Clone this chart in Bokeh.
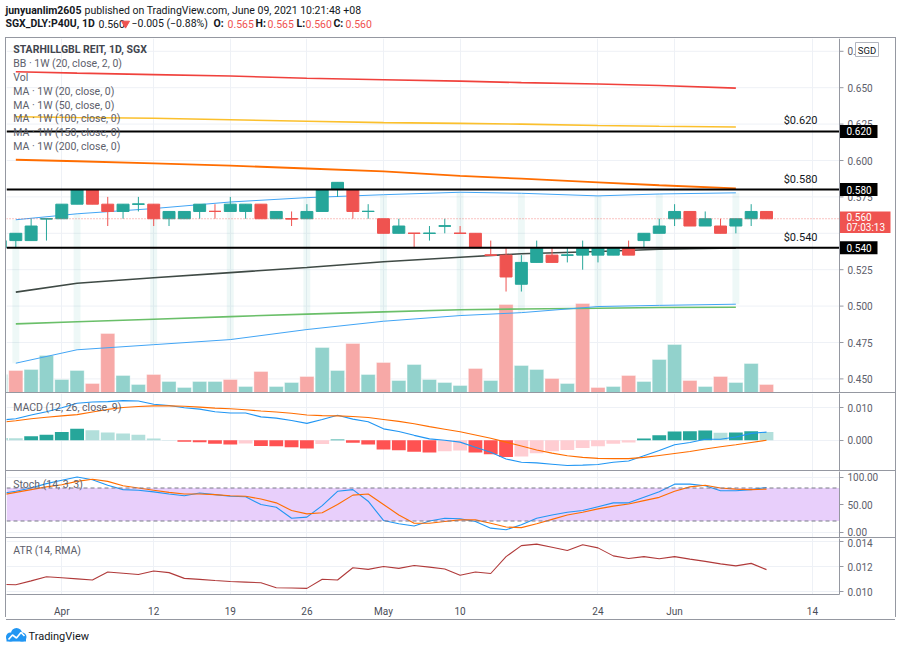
from bokeh.plotting import figure
from bokeh.models import (Range1d, FixedTicker, PrintfTickFormatter, Span,
                          BoxAnnotation, Spacer, ColumnDataSource)
from bokeh.layouts import column, row
from bokeh.core.properties import value
from bokeh.embed import file_html
from bokeh.resources import INLINE

# ---------------- data ----------------
dates = ["Mar 26", "Mar 29", "Mar 30", "Mar 31", "Apr 1", "Apr 5", "Apr 6", "Apr 7", "Apr 8", "Apr 9",
         "Apr 12", "Apr 13", "Apr 14", "Apr 15", "Apr 16", "Apr 19", "Apr 20", "Apr 21", "Apr 22", "Apr 23",
         "Apr 26", "Apr 27", "Apr 28", "Apr 29", "Apr 30", "May 3", "May 4", "May 5", "May 6", "May 7",
         "May 10", "May 11", "May 12", "May 14", "May 17", "May 18", "May 19", "May 20", "May 21", "May 24",
         "May 25", "May 27", "May 28", "May 31", "Jun 1", "Jun 2", "Jun 3", "Jun 4", "Jun 7", "Jun 8",
         "Jun 9"]
opens = [0.540, 0.545, 0.545, 0.560, 0.560, 0.570, 0.580, 0.570, 0.565, 0.570,
         0.570, 0.560, 0.560, 0.565, 0.565, 0.565, 0.565, 0.570, 0.560, 0.560,
         0.560, 0.565, 0.580, 0.580, 0.565, 0.560, 0.550, 0.550, 0.550, 0.555,
         0.550, 0.550, 0.535, 0.535, 0.515, 0.530, 0.535, 0.535, 0.535, 0.535,
         0.535, 0.540, 0.545, 0.550, 0.560, 0.565, 0.555, 0.555, 0.555, 0.560,
         0.565]
highs = [0.545, 0.550, 0.560, 0.560, 0.570, 0.580, 0.580, 0.575, 0.570, 0.575,
         0.570, 0.565, 0.565, 0.570, 0.570, 0.575, 0.570, 0.570, 0.565, 0.565,
         0.570, 0.580, 0.585, 0.580, 0.570, 0.560, 0.560, 0.550, 0.555, 0.560,
         0.555, 0.550, 0.545, 0.540, 0.535, 0.545, 0.540, 0.540, 0.545, 0.540,
         0.540, 0.545, 0.550, 0.560, 0.570, 0.565, 0.565, 0.560, 0.560, 0.570,
         0.565]
lows = [0.535, 0.540, 0.545, 0.545, 0.560, 0.570, 0.570, 0.555, 0.560, 0.565,
        0.555, 0.555, 0.560, 0.560, 0.560, 0.565, 0.560, 0.560, 0.560, 0.555,
        0.560, 0.565, 0.575, 0.560, 0.560, 0.550, 0.550, 0.540, 0.545, 0.550,
        0.550, 0.540, 0.535, 0.510, 0.510, 0.530, 0.530, 0.530, 0.525, 0.530,
        0.535, 0.535, 0.540, 0.550, 0.555, 0.555, 0.555, 0.550, 0.550, 0.555,
        0.560]
closes = [0.545, 0.550, 0.555, 0.560, 0.570, 0.580, 0.570, 0.565, 0.570, 0.570,
          0.560, 0.565, 0.565, 0.570, 0.565, 0.570, 0.570, 0.560, 0.565, 0.560,
          0.565, 0.580, 0.585, 0.565, 0.565, 0.550, 0.555, 0.550, 0.550, 0.555,
          0.550, 0.540, 0.535, 0.520, 0.530, 0.540, 0.530, 0.535, 0.540, 0.540,
          0.540, 0.535, 0.550, 0.555, 0.565, 0.555, 0.560, 0.550, 0.560, 0.565,
          0.560]
volumes = [1.8, 2.2, 2.3, 3.7, 1.3, 2.2, 0.9, 5.9, 1.7, 0.8,
           1.8, 1.1, 0.5, 1.1, 1.1, 1.3, 0.6, 2.1, 0.6, 1.0,
           1.6, 4.5, 2.2, 4.9, 1.8, 3.0, 1.2, 2.8, 1.3, 1.0,
           0.7, 2.4, 1.2, 8.8, 2.7, 2.3, 1.4, 0.9, 8.9, 0.5,
           0.6, 1.7, 1.1, 3.3, 4.8, 1.2, 0.6, 1.6, 1.0, 2.9,
           0.8]
volume_up = [1, 0, 1, 1, 1, 1, 0, 0, 1, 1,
             0, 1, 1, 1, 1, 0, 1, 0, 1, 1,
             0, 1, 1, 0, 1, 0, 1, 1, 1, 1,
             1, 0, 1, 0, 1, 1, 0, 1, 0, 0,
             1, 0, 1, 1, 1, 0, 1, 0, 1, 1,
             0]

# weekly (1W) indicators, plotted at the first bar of each week
week_start = [1, 5, 10, 15, 20, 25, 30, 34, 39, 43, 48]
bb_upper = [0.5593, 0.5634, 0.5670, 0.5715, 0.5745, 0.5765, 0.5782, 0.5775, 0.5757, 0.5770, 0.5778]
bb_basis = [0.5096, 0.5157, 0.5195, 0.5230, 0.5265, 0.5305, 0.5335, 0.5360, 0.5375, 0.5390, 0.5400]
bb_lower = [0.4608, 0.4700, 0.4735, 0.4770, 0.4839, 0.4896, 0.4935, 0.4955, 0.4997, 0.5005, 0.5013]
ma50 = [0.4878, 0.4893, 0.4910, 0.4928, 0.4945, 0.4960, 0.4975, 0.4980, 0.4985, 0.4990, 0.4992]
ma100 = [0.6005, 0.5995, 0.5980, 0.5965, 0.5945, 0.5925, 0.5895, 0.5875, 0.5850, 0.5830, 0.5808]
ma150 = [0.6300, 0.6295, 0.6290, 0.6280, 0.6270, 0.6260, 0.6255, 0.6250, 0.6240, 0.6235, 0.6230]
ma200 = [0.6610, 0.6600, 0.6590, 0.6580, 0.6565, 0.6555, 0.6545, 0.6535, 0.6525, 0.6515, 0.6497]

macd_line = [0.0062, 0.0066, 0.0078, 0.0088, 0.0100, 0.0114, 0.0118, 0.0119, 0.0122, 0.0121,
             0.0111, 0.0107, 0.0100, 0.0096, 0.0088, 0.0084, 0.0084, 0.0072, 0.0068, 0.0061,
             0.0052, 0.0064, 0.0077, 0.0065, 0.0057, 0.0035, 0.0027, 0.0015, 0.0004, 0.0000,
             -0.0006, -0.0022, -0.0037, -0.0058, -0.0068, -0.0070, -0.0074, -0.0078, -0.0077, -0.0075,
             -0.0068, -0.0064, -0.0048, -0.0032, -0.0014, -0.0007, 0.0003, 0.0003, 0.0010, 0.0021,
             0.0025]
macd_signal = [0.0055, 0.0060, 0.0066, 0.0071, 0.0075, 0.0079, 0.0087, 0.0095, 0.0101, 0.0104,
               0.0106, 0.0106, 0.0105, 0.0102, 0.0099, 0.0097, 0.0094, 0.0090, 0.0087, 0.0083,
               0.0078, 0.0076, 0.0075, 0.0073, 0.0070, 0.0064, 0.0058, 0.0051, 0.0042, 0.0034,
               0.0026, 0.0016, 0.0006, -0.0006, -0.0018, -0.0030, -0.0040, -0.0048, -0.0053, -0.0056,
               -0.0057, -0.0057, -0.0053, -0.0047, -0.0041, -0.0035, -0.0027, -0.0020, -0.0014, -0.0007,
               0.0000]
macd_hist = [0.0007, 0.0006, 0.0012, 0.0017, 0.0025, 0.0035, 0.0031, 0.0024, 0.0021, 0.0017,
             0.0005, 0.0001, -0.0005, -0.0006, -0.0011, -0.0013, -0.0010, -0.0018, -0.0019, -0.0022,
             -0.0026, -0.0012, 0.0002, -0.0008, -0.0013, -0.0029, -0.0031, -0.0036, -0.0038, -0.0034,
             -0.0032, -0.0038, -0.0043, -0.0052, -0.0050, -0.0040, -0.0034, -0.0030, -0.0024, -0.0019,
             -0.0011, -0.0007, 0.0005, 0.0015, 0.0027, 0.0028, 0.0030, 0.0023, 0.0024, 0.0028,
             0.0025]

stoch_k = [70, 74, 80, 88, 94, 100, 95, 85, 77, 76,
           73, 69, 66, 71, 68, 65, 64, 50, 45, 25,
           27, 48, 74, 77, 56, 21, 15, 11, 20, 25,
           24, 19, 7, 4, 13, 25, 31, 36, 39, 46,
           53, 53, 63, 73, 87, 87, 84, 75, 75, 77,
           81]
stoch_d = [67, 72, 77, 82, 86, 92, 96, 92, 84, 80,
           76, 72, 69, 69, 68, 66, 65, 60, 53, 39,
           33, 35, 50, 67, 69, 50, 31, 16, 16, 19,
           22, 22, 16, 9, 8, 15, 23, 31, 36, 42,
           47, 51, 57, 63, 74, 82, 85, 80, 78, 77,
           78]

atr = [0.01058, 0.01054, 0.01085, 0.01118, 0.01110, 0.01101, 0.01092, 0.01156, 0.01146, 0.01136,
       0.01164, 0.01151, 0.01105, 0.01097, 0.01088, 0.01080, 0.01075, 0.01070, 0.01030, 0.01028,
       0.01025, 0.01098, 0.01092, 0.01190, 0.01177, 0.01200, 0.01185, 0.01208, 0.01195, 0.01180,
       0.01130, 0.01156, 0.01144, 0.01279, 0.01367, 0.01379, 0.01354, 0.01328, 0.01374, 0.01349,
       0.01285, 0.01264, 0.01279, 0.01262, 0.01279, 0.01259, 0.01241, 0.01221, 0.01205, 0.01225,
       0.01175]

level_prices = [0.620, 0.580, 0.540]
level_texts = ["$0.620", "$0.580", "$0.540"]
level_tags = ["0.620", "0.580", "0.540"]
last_price = 0.560
last_tag_lines = ["0.560", "07:03:13"]
currency = "SGD"

x_tick_pos = [4, 10, 15, 20, 25, 30, 39, 44, 53]
x_tick_labels = ["Apr", "12", "19", "26", "May", "10", "24", "Jun", "14"]
price_ticks = [0.450, 0.475, 0.500, 0.525, 0.550, 0.575, 0.600, 0.625, 0.650, 0.675]
# labels shown on the price scale (0.550 is hidden by the last-price tag)
price_label_ticks = [0.450, 0.475, 0.500, 0.525, 0.575, 0.600, 0.625, 0.650, 0.675]
price_tick_labels = ["0.450", "0.475", "0.500", "0.525", "0.575", "0.600", "0.625", "0.650", "0.675"]
macd_ticks = [-0.010, 0.000, 0.010]
stoch_ticks = [0, 50, 100]
atr_ticks = [0.010, 0.012, 0.014]

main_title = "STARHILLGBL REIT, 1D, SGX"
main_legend = ["BB \u00b7 1W (20, close, 2, 0)", "Vol", "MA \u00b7 1W (20, close, 0)",
               "MA \u00b7 1W (50, close, 0)", "MA \u00b7 1W (100, close, 0)",
               "MA \u00b7 1W (150, close, 0)", "MA \u00b7 1W (200, close, 0)"]
macd_title = "MACD (12, 26, close, 9)"
stoch_title = "Stoch (14, 3, 3)"
atr_title = "ATR (14, RMA)"

# ---------------- style / layout ----------------
FONT = "Roboto"
DARK = "#131722"
RED = "#ef5350"
UP = "#26a69a"
GRID = "#eef1f6"
BORDER = "#9598a1"
AXIS_TXT = "#5d606b"
LEG_TXT = "#5d606b"

S = 15.32                 # px per bar
LEFT, AXX, RIGHT = 6, 839, 895   # page x of frame left, price axis, outer right
X0 = LEFT / S
AX = AXX / S
XM1 = RIGHT / S
PXU = 1 / S               # one pixel in bar units
idx = list(range(len(dates)))


def style_axis(ax):
    ax.axis_line_color = BORDER
    ax.major_tick_line_color = BORDER
    ax.major_tick_out = 4
    ax.major_tick_in = 0
    ax.minor_tick_line_color = None
    ax.major_label_standoff = 4
    ax.major_label_text_font = FONT
    ax.major_label_text_font_size = "10px"
    ax.major_label_text_color = AXIS_TXT


xr = Range1d(X0, AX)


def make_panel(fh, y0, y1, ticks, fmt, bottom=0):
    p = figure(frame_width=AXX - LEFT, frame_height=fh, x_range=xr, y_range=Range1d(y0, y1),
               output_backend="svg", toolbar_location=None, tools="",
               x_axis_location=("below" if bottom else None), y_axis_location="right",
               min_border_left=0, min_border_right=RIGHT - AXX, min_border_top=0,
               min_border_bottom=bottom, outline_line_color=None,
               background_fill_color="white", border_fill_color="white")
    ax = p.yaxis[0]
    ax.ticker = FixedTicker(ticks=ticks)
    ax.formatter = PrintfTickFormatter(format=fmt)
    style_axis(ax)
    p.xgrid.ticker = FixedTicker(ticks=x_tick_pos)
    p.ygrid.ticker = FixedTicker(ticks=ticks)
    p.xgrid.grid_line_color = GRID
    p.ygrid.grid_line_color = GRID
    return p


def y_of(page_y, top, fh, y0, y1):
    return y1 - (page_y - top) / fh * (y1 - y0)


def txt(p, xs, ys, texts, size="10.5px", color=LEG_TXT, align="left", baseline="middle", style="normal"):
    p.text(x=xs, y=ys, text=texts, text_align=align, text_baseline=baseline,
           text_font=value(FONT), text_font_size=size, text_color=color, text_font_style=style)


# ---- main price panel: frame page y 38..392, frame x 6..895 (price scale drawn inside)
M_TOP, M_H = 38, 354
PPU = 1456.0


def price_at(page_y):
    return 0.6 + (160 - page_y) / PPU


M_Y1 = price_at(M_TOP)
M_Y0 = price_at(M_TOP + M_H)
main = figure(frame_width=RIGHT - LEFT, frame_height=M_H, x_range=Range1d(X0, XM1),
              y_range=Range1d(M_Y0, M_Y1), output_backend="svg", toolbar_location=None, tools="",
              x_axis_location=None, y_axis_location=None, min_border=0, outline_line_color=None,
              background_fill_color="white", border_fill_color="white")
main.extra_y_ranges = {"vol": Range1d(0, M_H / 10.0)}
main.xgrid.ticker = FixedTicker(ticks=x_tick_pos)
main.xgrid.grid_line_color = GRID
main.ygrid.visible = False
nt = len(price_ticks)
main.segment(x0=[X0] * nt, y0=price_ticks, x1=[AX] * nt, y1=price_ticks, line_color=GRID)

# BB fill at weekly points
main.vbar(x=week_start, bottom=bb_lower, top=bb_upper, width=0.45,
          fill_color=UP, fill_alpha=0.08, line_color=None)
# volume
vol_colors = ["#92d2cc" if u else "#f7a9a7" for u in volume_up]
main.vbar(x=idx, top=volumes, bottom=0, width=0.92, y_range_name="vol",
          fill_color=vol_colors, line_color="white", line_width=0.6, line_alpha=0.6)
# weekly BB / MA lines
for arr, col, w in [(ma200, "#f0413c", 1.6), (ma150, "#fbc02d", 1.6), (ma100, "#ff6d00", 1.8),
                    (bb_upper, "#42a5f5", 1.0), (bb_basis, "#3f4a45", 1.6),
                    (ma50, "#6abf69", 1.6), (bb_lower, "#42a5f5", 1.0)]:
    main.line(week_start, arr, line_color=col, line_width=w)

# candles
cols = []
for i in idx:
    if closes[i] > opens[i]:
        cols.append(UP)
    elif closes[i] < opens[i]:
        cols.append(RED)
    else:
        prev = closes[i - 1] if i > 0 else opens[i]
        cols.append(UP if closes[i] >= prev else RED)
main.segment(x0=idx, y0=lows, x1=idx, y1=highs, line_color=cols, line_width=1)
body_lo = [min(o, c) for o, c in zip(opens, closes)]
body_hi = [max(o, c) for o, c in zip(opens, closes)]
main.vbar(x=idx, bottom=body_lo, top=body_hi, width=0.78, fill_color=cols, line_color=cols)
doji = [i for i in idx if opens[i] == closes[i]]
main.segment(x0=[i - 0.39 for i in doji], y0=[closes[i] for i in doji],
             x1=[i + 0.39 for i in doji], y1=[closes[i] for i in doji],
             line_color=[cols[i] for i in doji], line_width=1.3)

# last price dotted line and level lines
main.segment(x0=[X0], y0=[last_price], x1=[AX], y1=[last_price], line_color=RED, line_alpha=0.7,
             line_dash="1 2", line_width=1)
nl = len(level_prices)
main.segment(x0=[X0] * nl, y0=level_prices, x1=[AX] * nl, y1=level_prices,
             line_color="black", line_width=2)
txt(main, [817 / S] * nl, [lv + 4 / PPU for lv in level_prices], level_texts,
    size="11px", color=DARK, align="right", baseline="bottom")

# legend texts
lx = 12.7 / S
txt(main, [lx], [price_at(49.3)], [main_title], color="#42454e", style="bold")
txt(main, [lx] * len(main_legend), [price_at(62.8 + 13.9 * k) for k in range(len(main_legend))],
    main_legend)

# price scale (right) inside the frame
nlab = len(price_label_ticks)
main.add_layout(Span(location=AX, dimension="height", line_color=BORDER, line_width=1))
main.segment(x0=[AX] * nlab, y0=price_label_ticks, x1=[AX + 4 * PXU] * nlab, y1=price_label_ticks,
             line_color=BORDER)
txt(main, [AX + 8 * PXU] * nlab, price_label_ticks, price_tick_labels, size="10px", color=AXIS_TXT)
# axis tags
main.quad(left=[AX] * nl, right=[AX + 38 * PXU] * nl, top=[lv + 6.5 / PPU for lv in level_prices],
          bottom=[lv - 6.5 / PPU for lv in level_prices], fill_color="black", line_color=None)
txt(main, [AX + 7 * PXU] * nl, level_prices, level_tags, size="10px", color="white")
main.quad(left=[AX], right=[AX + 51 * PXU], top=[price_at(211)], bottom=[price_at(232.5)],
          fill_color=RED, line_color=None)
txt(main, [AX + 7 * PXU] * 2, [price_at(216.5), price_at(227)], last_tag_lines,
    size="10px", color="white")
main.quad(left=[855 / S], right=[878 / S], top=[price_at(42)], bottom=[price_at(56)],
          fill_color="white", line_color="#b2b5be", line_width=1)
txt(main, [866.5 / S], [price_at(49.5)], [currency], size="9.5px", color=DARK, align="center")

# ---- MACD panel: frame page y 393..470
C_TOP, C_H = 393, 77
C_Y1 = (439.7 - C_TOP) / 3240
C_Y0 = (439.7 - (C_TOP + C_H)) / 3240
macd = make_panel(C_H, C_Y0, C_Y1, macd_ticks, "%.3f")
hcols = []
for i, h in enumerate(macd_hist):
    prev = macd_hist[i - 1] if i > 0 else h - 1
    if h >= 0:
        hcols.append("#26a69a" if h > prev else "#b2dfdb")
    else:
        hcols.append("#ff5252" if h < prev else "#ffcdd2")
macd.vbar(x=idx, top=macd_hist, bottom=0, width=0.9, fill_color=hcols, line_color=None)
macd.line(idx, macd_line, line_color="#2196f3", line_width=1.1)
macd.line(idx, macd_signal, line_color="#ff6d00", line_width=1.1)
txt(macd, [lx], [y_of(406.5, C_TOP, C_H, C_Y0, C_Y1)], [macd_title])

# ---- Stochastic panel: frame page y 471..537
S_TOP, S_H = 471, 66
S_ZERO = 531.5
S_Y1 = (S_ZERO - S_TOP) / 0.55
S_Y0 = (S_ZERO - (S_TOP + S_H)) / 0.55
stoch = make_panel(S_H, S_Y0, S_Y1, stoch_ticks, "%.2f")
stoch.add_layout(BoxAnnotation(bottom=20, top=80, fill_color="#e8cffb", fill_alpha=1.0,
                               line_color=None, level="underlay"))
for lv in (80, 20):
    stoch.add_layout(Span(location=lv, dimension="width", line_color="#787b86",
                          line_dash="4 3", line_width=1))
stoch.line(idx, stoch_k, line_color="#2196f3", line_width=1.1)
stoch.line(idx, stoch_d, line_color="#ff6d00", line_width=1.1)
txt(stoch, [lx], [y_of(484, S_TOP, S_H, S_Y0, S_Y1)], [stoch_title])

# ---- ATR panel: frame page y 538..594, x axis below (594..616)
A_TOP, A_H = 538, 56
A_PPU = 12500.0
A_Y1 = 0.012 + (566 - A_TOP) / A_PPU
A_Y0 = 0.012 - (A_TOP + A_H - 566) / A_PPU
atrp = make_panel(A_H, A_Y0, A_Y1, atr_ticks, "%.3f", bottom=22)
atrp.line(idx, atr, line_color="#b03a3a", line_width=1.1)
txt(atrp, [lx], [y_of(550, A_TOP, A_H, A_Y0, A_Y1)], [atr_title])
xa = atrp.xaxis[0]
xa.ticker = FixedTicker(ticks=x_tick_pos)
xa.major_label_overrides = {t: l for t, l in zip(x_tick_pos, x_tick_labels)}
xa.axis_line_color = BORDER
xa.major_tick_line_color = None
xa.minor_tick_line_color = None
xa.major_label_standoff = 5
xa.major_label_text_font = FONT
xa.major_label_text_font_size = "10px"
xa.major_label_text_color = "#4a4d57"

# ---- header
header = figure(frame_width=900, frame_height=37, x_range=Range1d(0, 900), y_range=Range1d(37, 0),
                output_backend="svg", toolbar_location=None, tools="",
                x_axis_location=None, y_axis_location=None, min_border=0,
                outline_line_color=None, background_fill_color="white", border_fill_color="white")
header.grid.visible = False
hsrc = ColumnDataSource(dict(
    x=[5, 84, 5, 98, 131, 213, 227, 255, 267, 296, 305, 333, 345],
    y=[10, 10, 23, 23, 23, 23, 23, 23, 23, 23, 23, 23, 23],
    text=["junyuanlim2605", "published on TradingView.com, June 09, 2021 10:21:48 +08",
          "SGX_DLY:P40U, 1D", "0.560", "\u22120.005 (\u22120.88%)",
          "O:", "0.565", "H:", "0.565", "L:", "0.560", "C:", "0.560"],
    style=["bold", "normal", "bold", "normal", "normal", "bold", "normal", "bold", "normal",
           "bold", "normal", "bold", "normal"],
    color=[DARK, DARK, DARK, DARK, DARK, DARK, RED, DARK, RED, DARK, RED, DARK, RED]))
header.text(x="x", y="y", text="text", text_font_style="style", text_color="color",
            source=hsrc, text_baseline="middle", text_font=value(FONT), text_font_size="10.5px")
header.scatter(x=[125], y=[23], marker="inverted_triangle", size=8,
               fill_color=RED, line_color=RED)

# ---- footer (logo)
footer = figure(frame_width=900, frame_height=30, x_range=Range1d(0, 900), y_range=Range1d(30, 0),
                output_backend="svg", toolbar_location=None, tools="",
                x_axis_location=None, y_axis_location=None, min_border=0,
                outline_line_color=None, background_fill_color="white", border_fill_color="white")
footer.grid.visible = False
footer.circle(x=[10, 16, 21.5], y=[16.5, 13, 16.5], radius=[4.5, 5.5, 4.5],
              fill_color="#2196f3", line_color=None)
footer.quad(left=[6], right=[25.5], top=[16], bottom=[21], fill_color="#2196f3", line_color=None)
footer.line([8, 12, 16, 20.5, 24], [19, 14.5, 17.5, 12, 15.5], line_color="white", line_width=1.6)
txt(footer, [28], [15.5], ["TradingView"], size="11px", color=DARK)


def hline():
    return Spacer(width=RIGHT - LEFT, height=1, styles={"background-color": BORDER})


panels = column(hline(), main, hline(), macd, hline(), stoch, hline(), atrp, hline(), spacing=0)
PH = 1 + M_H + 1 + C_H + 1 + S_H + 1 + A_H + 22 + 1
body = row(Spacer(width=5, height=PH),
           Spacer(width=1, height=PH, styles={"background-color": BORDER}),
           panels,
           Spacer(width=1, height=PH, styles={"background-color": BORDER}),
           Spacer(width=4, height=PH), spacing=0)
layout = column(header, body, footer, spacing=0)

open("out.html", "w").write(file_html(layout, INLINE))
